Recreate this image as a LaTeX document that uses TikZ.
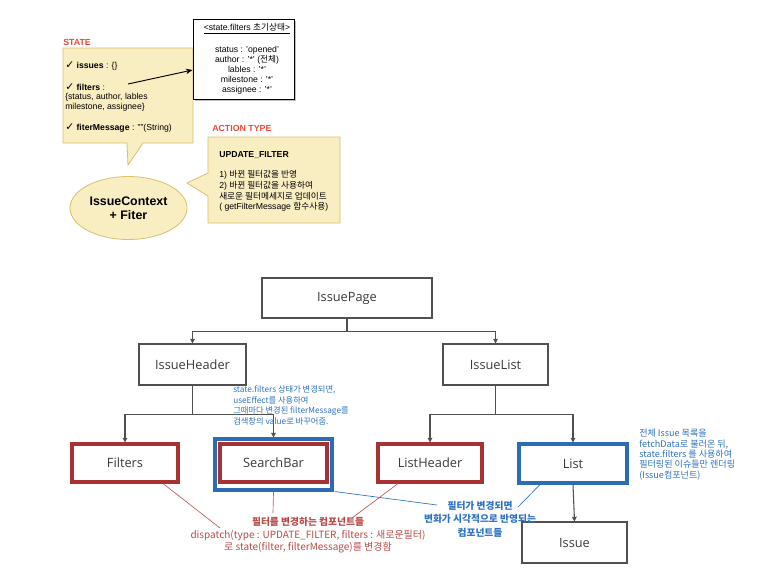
\documentclass[tikz,border=0pt]{standalone}
\usepackage{fontspec}
\setmainfont{Liberation Sans}
\newfontfamily\kr{Noto Sans CJK KR}
\newfontfamily\osans{Open Sans}
\newfontfamily\dv{DejaVu Sans}
\usetikzlibrary{arrows.meta,shapes.geometric}
\definecolor{redB}{HTML}{A83232}
\definecolor{blueB}{HTML}{2B6CB5}
\definecolor{redT}{HTML}{B94A48}
\definecolor{redL}{HTML}{C25A58}
\definecolor{blueT}{HTML}{2E72C2}
\definecolor{stateRed}{HTML}{EC4A36}
\definecolor{fillY}{HTML}{F9EDC2}
\definecolor{strokeY}{HTML}{D9C06E}
\definecolor{boxgray}{HTML}{505050}
\definecolor{textgray}{HTML}{3A3A3A}
\newcommand\K[1]{{\kr #1}}
\newcommand\ck{{\dv\bfseries\fontsize{8}{8}\selectfont ✓}}
\newcommand\sq{\symbol{39}}
\newcommand\dq{\symbol{34}}
\begin{document}
\begin{tikzpicture}[x=0.75pt,y=-0.75pt,
  tbox/.style={draw=boxgray, line width=0.8pt, fill=white, inner sep=0pt,
    font=\osans\fontsize{9.6}{11}\selectfont, text=textgray},
  redbox/.style={tbox, draw=redB, line width=2.3pt},
  bluebox/.style={tbox, draw=blueB, line width=2.3pt},
  arr/.style={draw=boxgray, line width=0.8pt, -{Triangle[length=3.5pt,width=3.5pt]}},
  callout/.style={draw=strokeY, line width=0.6pt, fill=fillY},
  small/.style={inner sep=0pt, font=\fontsize{6.5}{7.5}\selectfont, align=left},
  ann/.style={inner sep=0pt, text=blueT, font=\kr\fontsize{6.2}{7.9}\selectfont, align=left},
  redline/.style={draw=redL, line width=0.5pt},
  blueline/.style={draw=blueT, line width=0.5pt}]
\useasboundingbox (0,0) rectangle (773,587);
\fill[white] (0,0) rectangle (773,587);

% ---------- STATE callout ----------
\node[anchor=west, inner sep=0pt, text=stateRed, font=\bfseries\fontsize{6.6}{8}\selectfont] (statelbl) at (63,42) {STATE};
\draw[callout] (63,48) -- (193,48) -- (193,143) -- (143,143) -- (128,165) -- (127,143) -- (63,143) -- cycle;
\node[small, anchor=west] (s1) at (65,66) {\ck\ \textbf{issues} : \{\}};
\node[small, anchor=west] (s2) at (65,87) {\ck\ \textbf{filters} :};
\node[small, anchor=west] (s3) at (65,102) {\{status, author, lables\\milestone, assignee\}};
\node[small, anchor=west] (s4) at (65,128) {\ck\ \textbf{fiterMessage} : \dq\dq(String)};
\coordinate (fstart) at (128,84);

% ---------- state.filters box ----------
\fill[black!25] (195,21) rectangle (296,101);
\node[draw=black, line width=0.7pt, fill=white, minimum width=101*0.75pt, minimum height=80*0.75pt, inner sep=0pt] (fbox) at (243.5,59) {};
\node[small, align=center] (ftitle) at (247,29) {\underline{<state.filters \K{초기상태}>}};
\node[small, align=center, font=\fontsize{6.5}{7.5}\selectfont] (flines) at (247,70.5) {status : \sq opened\sq\\author : \sq*\sq\ (\K{전체})\\lables : \sq*\sq\\milestone : \sq*\sq\\assignee : \sq*\sq};
\draw[line width=0.7pt, -{Stealth[length=5pt,width=4pt]}] (fstart) -- ([yshift=-8.25pt]fbox.west);

% ---------- Ellipse ----------
\node[ellipse, draw=strokeY, line width=0.6pt, fill=fillY, minimum width=117*0.75pt, minimum height=63*0.75pt, inner sep=0pt,
  font=\bfseries\fontsize{9.3}{10.8}\selectfont, align=center] (ctx) at (128.5,208) {IssueContext\\+ Fiter};

% ---------- ACTION callout ----------
\node[anchor=west, inner sep=0pt, text=stateRed, font=\bfseries\fontsize{6.6}{8}\selectfont] (actlbl) at (212,128) {ACTION TYPE};
\draw[callout] (208,137) -- (340,137) -- (340,223) -- (208,223) -- (208,196) -- (187,183) -- (208,173) -- cycle;
\node[small, anchor=west] (a0) at (219,155) {\textbf{UPDATE\_FILTER}};
\node[small, anchor=west, font=\fontsize{6.5}{8}\selectfont] (a1) at (219,191) {1) \K{바뀐 필터값을 반영}\\2) \K{바뀐 필터값을 사용하여}\\\K{새로운 필터메세지로 업데이트}\\( getFilterMessage \K{함수사용})};

% ---------- Tree ----------
\node[tbox, minimum width=170*0.75pt, minimum height=40*0.75pt] (page) at (347,298) {IssuePage};
\node[tbox, minimum width=107*0.75pt, minimum height=41*0.75pt] (header) at (192.5,364.5) {IssueHeader};
\node[tbox, minimum width=105*0.75pt, minimum height=41*0.75pt] (list0) at (495.5,364.5) {IssueList};

\node[redbox, minimum width=106*0.75pt, minimum height=38*0.75pt] (filters) at (125,463) {Filters};
\node[draw=blueB, line width=2.3pt, minimum width=117*0.75pt, minimum height=51*0.75pt, inner sep=0pt] (sbouter) at (273.5,464.5) {};
\node[redbox, minimum width=107*0.75pt, minimum height=38*0.75pt] (search) at (273.5,463) {SearchBar};
\node[redbox, minimum width=104*0.75pt, minimum height=38*0.75pt] (lheader) at (430,463) {ListHeader};
\node[bluebox, minimum width=108*0.75pt, minimum height=39*0.75pt] (list) at (573,463.5) {List};
\node[tbox, minimum width=105*0.75pt, minimum height=41*0.75pt] (issue) at (574.5,542.5) {Issue};

\draw[arr] (page.south) -- ++(0,13) -| (header.north);
\draw[arr] (page.south) -- ++(0,13) -| (list0.north);
\draw[arr] (header.south) -- ++(0,28.5) -| (filters.north);
\draw[arr] (header.south) -- ++(0,28.5) -| (sbouter.north);
\draw[arr] (list0.south) -- ++(0,28.5) -| (lheader.north);
\draw[arr] (list0.south) -- ++(0,28.5) -| (list.north);
\draw[arr] (list.south) -- (issue.north);

% ---------- Annotations ----------
\node[ann, anchor=west] (annsb) at (233,405.5) {state.filters 상태가 변경되면,\\useEffect를 사용하여\\그때마다 변경된 filterMessage를\\검색창의 value로 바꾸어줌.};
\node[ann, anchor=west, font=\kr\fontsize{6.8}{7.75}\selectfont] (annlist) at (639,454.5) {전체 Issue 목록을\\fetchData로 불러온 뒤,\\state.filters 를 사용하여\\필터링된 이슈들만 렌더링\\(Issue컴포넌트)};

\node[inner sep=0pt, align=center, text=redT, font=\kr\fontsize{7.5}{9.4}\selectfont] (redtxt) at (308,535.5)
  {{\bfseries\fontsize{7.3}{9.4}\selectfont 필터를 변경하는 컴포넌트들}\\dispatch(type : UPDATE\_FILTER, filters : 새로운필터)\\로 state(filter, filterMessage)를 변경함};
\node[inner sep=0pt, align=center, text=blueT, font=\kr\bfseries\fontsize{7.3}{10}\selectfont] (bluetxt) at (480,519)
  {필터가 변경되면\\변화가 시각적으로 반영되는\\컴포넌트들};

\coordinate (r1) at (220,528);
\coordinate (r2) at (273,513);
\coordinate (r3) at (352,518);
\coordinate (b1) at (437,505);
\coordinate (b2) at (518,507);
\draw[redline] ([xshift=28.5pt]filters.south) -- (r1);
\draw[redline] (sbouter.south) -- (r2);
\draw[redline] ([xshift=-24pt]lheader.south) -- (r3);
\draw[blueline] ([xshift=46pt]sbouter.south) -- (b1);
\draw[blueline] ([xshift=-24.75pt]list.south) -- (b2);
\end{tikzpicture}
\end{document}
